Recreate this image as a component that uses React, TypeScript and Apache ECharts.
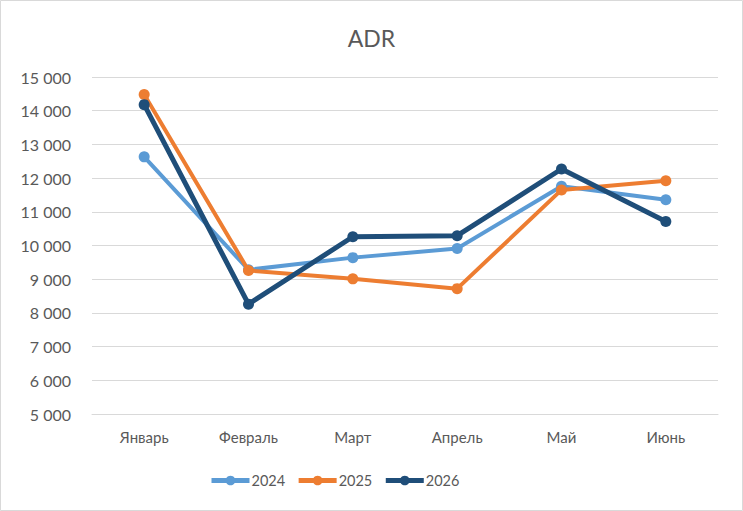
import React, { useEffect, useRef } from "react";
import * as echarts from "echarts";

const categories = ["Январь", "Февраль", "Март", "Апрель", "Май", "Июнь"];
const series2024 = [12630, 9280, 9640, 9910, 11760, 11360];
const series2025 = [14480, 9260, 9010, 8720, 11650, 11920];
const series2026 = [14180, 8260, 10260, 10290, 12270, 10710];
const seriesNames = ["2024", "2025", "2026"];
const colors = ["#5B9BD5", "#ED7D31", "#1F4E79"];

const FONT = "Lato, 'Noto Sans', sans-serif";

export default function App() {
  const ref = useRef<HTMLDivElement>(null);
  useEffect(() => {
    if (!ref.current) return;
    const chart = echarts.init(ref.current, null, { renderer: "svg" });
    const data = [series2024, series2025, series2026];
    const widths = [4, 4, 5];
    chart.setOption({
      animation: false,
      backgroundColor: "#FFFFFF",
      title: {
        text: "ADR",
        left: "center",
        top: 21,
        textStyle: { fontFamily: FONT, fontSize: 23, fontWeight: "normal", color: "#595959" },
      },
      graphic: [
        {
          type: "rect",
          shape: { x: 0.5, y: 0.5, width: 742, height: 510 },
          style: { fill: "none", stroke: "#D9D9D9", lineWidth: 1 },
          silent: true,
        },
      ],
      legend: {
        left: 209,
        top: 473,
        padding: 0,
        itemWidth: 38,
        itemHeight: 12,
        itemGap: 11,
        lineStyle: { width: 5 },
        textStyle: { fontFamily: FONT, fontSize: 14.5, color: "#595959", padding: [0, 0, 0, -3] },
        data: seriesNames,
      },
      grid: { left: 92, right: 25, top: 77, bottom: 97, containLabel: false },
      xAxis: {
        type: "category",
        data: categories,
        boundaryGap: true,
        axisLine: { lineStyle: { color: "#D9D9D9", width: 1 } },
        axisTick: { show: false },
        axisLabel: { fontFamily: FONT, fontSize: 15, color: "#595959", margin: 15 },
      },
      yAxis: {
        type: "value",
        min: 5000,
        max: 15000,
        interval: 1000,
        axisLine: { show: false },
        axisTick: { show: false },
        splitLine: { lineStyle: { color: "#D9D9D9", width: 1 } },
        axisLabel: {
          fontFamily: FONT,
          fontSize: 16,
          color: "#595959",
          margin: 21,
          formatter: (v: number) => {
            const s = String(Math.round(v));
            return s.replace(/\B(?=(\d{3})+(?!\d))/g, " ");
          },
        },
      },
      series: seriesNames.map((name, i) => ({
        name,
        type: "line",
        data: data[i],
        symbol: "circle",
        symbolSize: 11,
        showSymbol: true,
        lineStyle: { color: colors[i], width: widths[i] },
        itemStyle: { color: colors[i] },
        z: 2 + i,
      })),
    });
    return () => chart.dispose();
  }, []);
  return (
    <div
      ref={ref}
      style={{ position: "absolute", left: 0, top: 0, width: 743, height: 511 }}
    />
  );
}
